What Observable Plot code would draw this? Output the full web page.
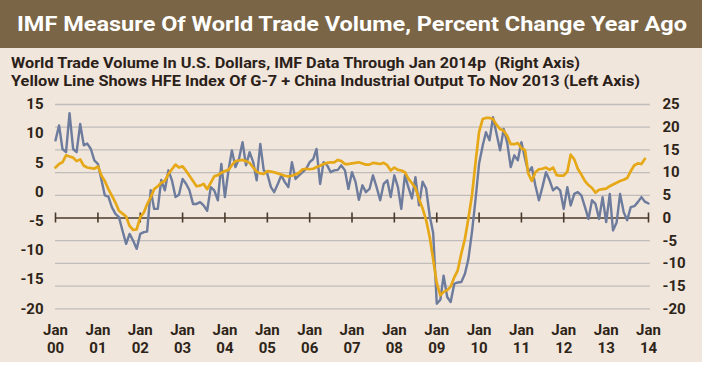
<!DOCTYPE html>
<html><head><meta charset="utf-8">
<script src="https://cdn.jsdelivr.net/npm/d3@7"></script>
<script src="https://cdn.jsdelivr.net/npm/@observablehq/plot@0.6"></script>
<style>
html,body{margin:0;padding:0;background:#fff;}
#wrap{width:702px;background:#f0e6dc;}
#title{height:48px;background:#7a6546;color:#fff;font:bold 21px Roboto,"Open Sans",sans-serif;line-height:48px;padding-left:17px;white-space:nowrap;overflow:hidden;box-sizing:border-box}
.fit{display:inline-block;transform-origin:0 50%;white-space:nowrap}
#sub{height:44px;padding-top:6px;box-sizing:border-box;padding-left:11px;font:bold 15px Roboto,sans-serif;color:#2b2118;line-height:18px;white-space:nowrap;overflow:hidden}
#chart svg{display:block}
</style></head>
<body><div id="wrap">
<div id="title"><span class="fit" data-w="670">IMF Measure Of World Trade Volume, Percent Change Year Ago</span></div>
<div id="sub"><div><span class="fit" data-w="569">World Trade Volume In U.S. Dollars, IMF Data Through Jan 2014p&nbsp; (Right Axis)</span></div><div><span class="fit" data-w="629">Yellow Line Shows HFE Index Of G-7 + China Industrial Output To Nov 2013 (Left Axis)</span></div></div>
<div id="chart"></div>
</div>
<script>
const startYear = 2000;
// World trade volume, % y/y, monthly from Jan 2000 (right axis)
const tradeVolume = [
17.1,20.4,15.2,14.5,23.1,15.2,14.5,20.7,16.0,16.4,15.2,12.7,
11.9,8.3,5.0,4.7,2.4,0.9,0.2,-2.8,-5.7,-3.5,-5.0,-6.8,
-3.5,-3.1,-3.0,6.1,2.0,2.0,8.4,6.1,10.5,8.3,4.6,5.1,
8.6,7.5,6.1,3.1,3.1,3.5,2.8,1.6,6.8,6.1,3.9,11.9,
4.6,10.5,14.9,11.2,13.0,16.7,11.6,14.5,12.3,8.3,16.3,10.5,
9.7,6.8,5.7,7.5,9.4,7.9,6.8,12.3,8.6,9.4,10.1,10.8,
12.3,13.0,15.2,7.5,12.3,11.6,10.1,10.5,10.6,11.6,10.5,6.4,
10.1,7.9,4.0,7.2,5.7,6.4,9.4,6.8,3.9,7.5,8.3,4.6,
9.4,6.8,2.0,9.4,6.8,4.3,9.0,2.8,8.0,6.5,0.5,-3.3,
-18.9,-18.0,-12.7,-17.4,-18.5,-14.5,-14.2,-14.1,-12.3,-9.0,-3.0,4.0,
12.0,15.9,18.9,17.1,22.2,18.5,14.9,19.6,16.5,11.2,13.8,12.7,
16.7,13.1,10.1,11.2,7.2,3.9,6.8,10.1,8.3,6.1,6.8,6.1,
2.0,6.8,2.75,5.3,5.7,5.0,2.5,-0.2,3.9,3.1,-0.2,4.6,
-0.9,5.3,-2.75,-1.0,5.3,1.3,-0.5,2.4,2.6,3.5,4.6,3.6,
3.2];
// HFE index of G-7 + China industrial output, % y/y, monthly from Jan 2000 (left axis)
const hfeIndex = [
4.2,4.8,5.1,6.3,6.1,5.9,5.3,5.6,4.5,4.2,4.1,4.0,
4.4,2.8,1.9,0.5,-0.6,-1.8,-3.2,-3.7,-4.2,-5.8,-6.5,-6.4,
-4.3,-3.5,-2.1,-0.9,0.5,1.0,1.6,1.9,3.1,3.9,4.7,4.2,
4.4,3.6,2.8,1.9,1.0,1.1,1.4,0.5,1.6,2.7,2.9,3.3,
3.6,3.8,4.6,5.3,5.4,5.5,5.3,5.0,4.2,3.5,3.2,3.1,
3.6,3.5,3.4,3.2,3.0,2.8,2.7,2.8,3.0,3.3,3.9,4.0,
3.9,4.0,4.3,4.5,4.8,5.0,5.1,5.1,5.5,5.3,4.8,4.8,
4.9,5.0,5.1,4.9,4.7,4.7,5.0,4.9,4.8,5.0,4.6,3.7,
4.2,3.8,3.7,3.4,2.3,1.5,0.7,-1.2,-2.8,-4.8,-7.7,-11.5,
-15.6,-17.7,-17.1,-16.8,-16.2,-14.6,-13.4,-10.5,-8.0,-4.5,-0.5,5.0,
10.3,12.5,12.7,12.7,12.5,11.5,10.8,10.5,9.6,8.2,8.2,8.4,
7.5,7.2,3.2,1.9,3.4,3.9,4.0,4.2,3.8,4.2,2.9,2.8,
2.8,3.5,6.4,5.6,4.0,3.0,1.9,1.2,0.7,-0.1,0.4,0.5,
0.6,1.0,1.3,1.6,1.9,2.1,2.4,3.6,4.6,4.9,4.8,5.7];
const rightTicks = [25,20,15,10,5,0,-5,-10,-15,-20];
const leftTicks = [15,10,5,0,-5,-10,-15,-20];
const years = [2000,2001,2002,2003,2004,2005,2006,2007,2008,2009,2010,2011,2012,2013,2014];

const month = i => new Date(Date.UTC(startYear, i, 1));
const jan = y => new Date(Date.UTC(y, 0, 1));
// left axis aligned to right axis: left 15 ↔ right 25, left -20 ↔ right -20
const toRight = d3.scaleLinear().domain([d3.min(leftTicks), d3.max(leftTicks)]).range([d3.min(rightTicks), d3.max(rightTicks)]);

const blue = tradeVolume.map((v, i) => ({date: month(i), value: v}));
const yellow = hfeIndex.map((v, i) => ({date: month(i), value: toRight(v)}));
const gridEnd = new Date(Date.UTC(2014, 0, 18));
const ink = "#2e2418";
const axisCol = "#4a3a2c";
const font = {fontSize: 15, fontWeight: "bold", fill: ink};

const chart = Plot.plot({
  width: 702, height: 270,
  marginLeft: 55, marginRight: 54, marginTop: 12, marginBottom: 54,
  x: {type: "utc", domain: [jan(2000), jan(2014)], range: [55, 648], axis: null},
  y: {domain: [-20, 25], range: [216.3, 12], axis: null},
  style: {background: "transparent", fontFamily: "Roboto, 'Open Sans', sans-serif", overflow: "visible"},
  marks: [
    Plot.ruleY(rightTicks.filter(d => d !== 0), {x1: jan(2000), x2: gridEnd, stroke: "#bfbcba", strokeWidth: 1.3}),
    Plot.ruleY([0], {x1: jan(2000), x2: jan(2014), stroke: axisCol, strokeWidth: 1.6}),
    Plot.ruleX(years, {x: d => jan(d), y1: -1.1, y2: 1.1, stroke: axisCol, strokeWidth: 1.6}),
    Plot.line(blue, {x: "date", y: "value", stroke: "#6d7b9d", strokeWidth: 2.4, strokeLinejoin: "round"}),
    Plot.line(yellow, {x: "date", y: "value", stroke: "#e6a817", strokeWidth: 2.7, strokeLinejoin: "round"}),
    Plot.text(leftTicks, {y: d => toRight(d), text: d => String(d), frameAnchor: "left", textAnchor: "end", dx: -12, ...font}),
    Plot.text(rightTicks, {y: d => d, text: d => String(d), frameAnchor: "right", textAnchor: "start", dx: 14, ...font}),
    Plot.text(years, {x: d => jan(d), text: d => "Jan", frameAnchor: "bottom", lineAnchor: "bottom", dy: 26.7, ...font}),
    Plot.text(years, {x: d => jan(d), text: d => String(d % 100).padStart(2, "0"), frameAnchor: "bottom", lineAnchor: "bottom", dy: 44.7, ...font})
  ]
});
document.getElementById("chart").appendChild(chart);

function fit() {
  document.querySelectorAll(".fit").forEach(el => {
    el.style.transform = "none";
    const w = el.getBoundingClientRect().width;
    if (w > 0) el.style.transform = `scaleX(${(+el.dataset.w) / w})`;
  });
}
fit();
if (document.fonts && document.fonts.ready) document.fonts.ready.then(fit);
</script>
</body></html>
